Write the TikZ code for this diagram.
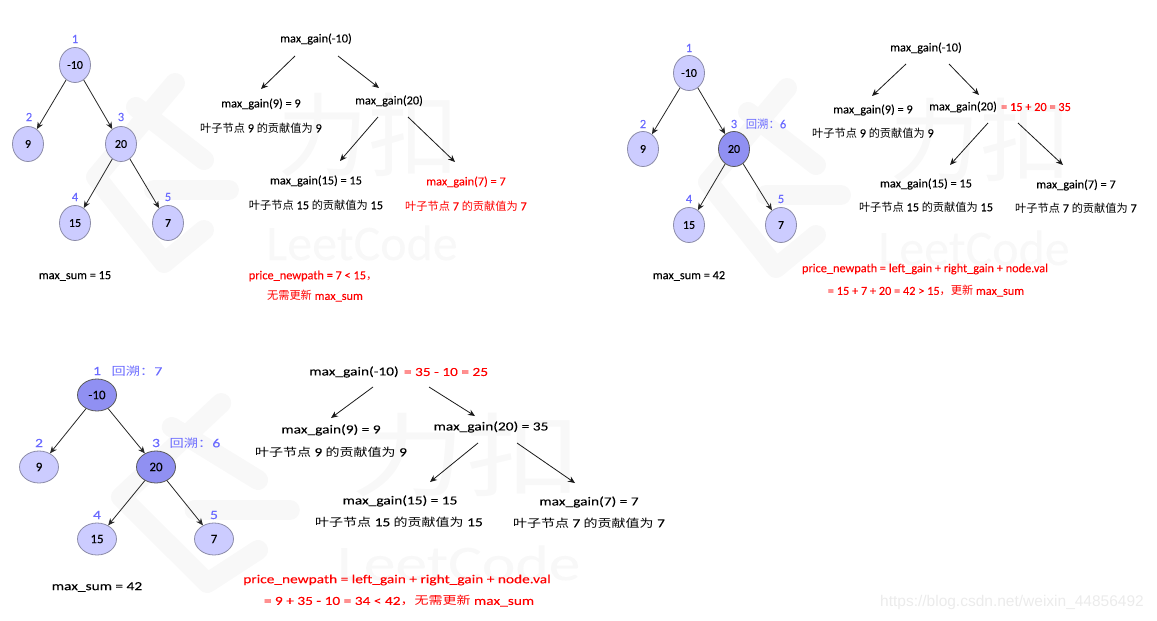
\documentclass[tikz,border=0pt]{standalone}
\usepackage{fontspec}
\usetikzlibrary{shapes.geometric, arrows.meta}
\setmainfont[FakeBold = 0.1]{Carlito}
\newfontfamily\cjk[Scale = 0.91]{Noto Sans CJK SC}
\newfontfamily\urlfont{Liberation Sans}
\definecolor{nodelight}{HTML}{CCCCFF}
\definecolor{nodedark}{HTML}{9090F2}
\definecolor{nodeline}{HTML}{8C8CA8}
\definecolor{labelblue}{HTML}{6A6AFF}
\definecolor{watermark}{HTML}{F8F8F8}
\newcommand{\leafgain}[1]{{\cjk 叶子节点} #1 {\cjk 的贡献值为} #1}
\newcommand{\backtrack}[1]{{\cjk 回溯：}#1}
\tikzset{
    treenode/.style = {ellipse, draw = nodeline, fill = nodelight, line width = 0.8pt, inner sep = 0pt, minimum width = 31pt, minimum height = 35pt, font = \fontsize{12}{14}\selectfont},
    widenode/.style = {treenode, minimum width = 39pt, minimum height = 32pt, font = \fontsize{13}{15}\selectfont},
    visited/.style = {fill = nodedark, draw = black!65},
    idlabel/.style = {text = labelblue, inner sep = 1pt, font = \fontsize{12.5}{14}\selectfont},
    widelabel/.style = {idlabel, xscale = 1.25, transform shape},
    gaintext/.style = {inner sep = 1pt, font = \fontsize{12.3}{14}\selectfont},
    widetext/.style = {gaintext, xscale = 1.25, transform shape},
    edgearrow/.style = {-{Stealth[length = 7pt, width = 6pt]}, line width = 0.8pt, black!85},
    gainarrow/.style = {-{Stealth[length = 7pt, width = 6pt]}, line width = 0.8pt, black!90}
}
\begin{document}
\begin{tikzpicture}[x = 1pt, y = -1pt]
    \useasboundingbox (0,0) rectangle (1157,621);

    % watermark behind each panel
    \foreach \dx/\dy/\sx in {0/0/1, 612/5/1, -1/320/1.27} {
        \begin{scope}[shift = {(\dx,\dy)}, xscale = \sx, transform shape]
            \draw[watermark, line width = 20pt, line cap = round, line join = round] (175,83) -- (96,177) -- (164,263) -- (204,230);
            \draw[watermark, line width = 20pt, line cap = round] (136,107) -- (204,160);
            \draw[watermark, line width = 20pt, line cap = round] (154,190) -- (229,190);
            \node[text = watermark, font = \cjk\fontsize{100}{100}\selectfont] (logotext\dx) at (368,135) {力扣};
            \node[text = watermark, font = \fontsize{50}{50}\selectfont] (logoname\dx) at (362,243) {LeetCode};
        \end{scope}
    }
    \node[text = black!8, font = \urlfont\fontsize{15.5}{17}\selectfont] (blogurl) at (1012,602) {https://blog.csdn.net/weixin\_44856492};

    % first panel
    \node[treenode] (aroot) at (75,65) {-10};
    \node[treenode] (aleft) at (28,144) {9};
    \node[treenode] (aright) at (121,144) {20};
    \node[treenode] (afour) at (75,223) {15};
    \node[treenode] (afive) at (168,223) {7};
    \draw[edgearrow] (aroot) -- (aleft);
    \draw[edgearrow] (aroot) -- (aright);
    \draw[edgearrow] (aright) -- (afour);
    \draw[edgearrow] (aright) -- (afive);

    \node[idlabel] (aid1) at (75,39) {1};
    \node[idlabel] (aid2) at (29,117) {2};
    \node[idlabel] (aid3) at (121,117) {3};
    \node[idlabel] (aid4) at (75,197) {4};
    \node[idlabel] (aid5) at (168,197) {5};

    \node[gaintext] (asum) at (75,276) {max\_sum = 15};
    \node[gaintext] (ag1) at (316,39) {max\_gain(-10)};
    \node[gaintext] (ag2) at (261,104) {max\_gain(9) = 9};
    \node[gaintext] (al2) at (261,128) {\leafgain{9}};
    \node[gaintext] (ag3) at (389,101) {max\_gain(20)};
    \node[gaintext] (ag4) at (316,181) {max\_gain(15) = 15};
    \node[gaintext] (al4) at (316,205) {\leafgain{15}};
    \node[gaintext, red] (ag5) at (466,182) {max\_gain(7) = 7};
    \node[gaintext, red] (al5) at (466,206) {\leafgain{7}};
    \node[gaintext, red] (aprice) at (313,276) {price\_newpath = 7 < 15{\cjk ，}};
    \node[gaintext, red] (acheck) at (315,296) {{\cjk 无需更新} max\_sum};

    \draw[gainarrow] ([xshift = -21pt, yshift = -17pt]ag1.center) -- ([yshift = 15pt]ag2.center);
    \draw[gainarrow] ([xshift = 22pt, yshift = -17pt]ag1.center) -- ([xshift = -10pt, yshift = 13pt]ag3.center);
    \draw[gainarrow] ([xshift = -11pt, yshift = -16pt]ag3.center) -- ([xshift = 24pt, yshift = 20pt]ag4.center);
    \draw[gainarrow] ([xshift = 19pt, yshift = -16pt]ag3.center) -- ([xshift = -11pt, yshift = 20pt]ag5.center);

    % second panel
    \node[treenode] (broot) at (689,73) {-10};
    \node[treenode] (bleft) at (643,149) {9};
    \node[treenode, visited] (bright) at (734,149) {20};
    \node[treenode] (bfour) at (689,225) {15};
    \node[treenode] (bfive) at (781,225) {7};
    \draw[edgearrow] (broot) -- (bleft);
    \draw[edgearrow] (broot) -- (bright);
    \draw[edgearrow] (bright) -- (bfour);
    \draw[edgearrow] (bright) -- (bfive);

    \node[idlabel] (bid1) at (689,48) {1};
    \node[idlabel] (bid2) at (643,124) {2};
    \node[idlabel] (bid3) at (734,124) {3};
    \node[idlabel] (bback3) at (766,124) {\backtrack{6}};
    \node[idlabel] (bid4) at (689,199) {4};
    \node[idlabel] (bid5) at (781,199) {5};

    \node[gaintext] (bsum) at (689,276) {max\_sum = 42};
    \node[gaintext] (bg1) at (926,48) {max\_gain(-10)};
    \node[gaintext] (bg2) at (873,110) {max\_gain(9) = 9};
    \node[gaintext] (bl2) at (873,133) {\leafgain{9}};
    \node[gaintext] (bg3) at (963,107) {max\_gain(20)};
    \node[gaintext, red] (bsum3) at (1036,107) {= 15 + 20 = 35};
    \node[gaintext] (bg4) at (926,184) {max\_gain(15) = 15};
    \node[gaintext] (bl4) at (926,207) {\leafgain{15}};
    \node[gaintext] (bg5) at (1076,185) {max\_gain(7) = 7};
    \node[gaintext] (bl5) at (1076,208) {\leafgain{7}};
    \node[gaintext, red] (bprice) at (925,269) {price\_newpath = left\_gain + right\_gain + node.val};
    \node[gaintext, red] (bcheck) at (926,291) {= 15 + 7 + 20 = 42 > 15{\cjk ，更新} max\_sum};

    \draw[gainarrow] ([xshift = -20pt, yshift = -16pt]bg1.center) -- ([xshift = -1pt, yshift = 14pt]bg2.center);
    \draw[gainarrow] ([xshift = 23pt, yshift = -16pt]bg1.center) -- ([xshift = 16pt, yshift = 12pt]bg3.center);
    \draw[gainarrow] ([xshift = 25pt, yshift = -16pt]bg3.center) -- ([xshift = 24pt, yshift = 19pt]bg4.center);
    \draw[gainarrow] ([xshift = 55pt, yshift = -16pt]bg3.center) -- ([xshift = -13pt, yshift = 20pt]bg5.center);

    % third panel, stretched sideways
    \node[widenode, visited] (croot) at (97,395) {-10};
    \node[widenode] (cleft) at (39,467) {9};
    \node[widenode, visited] (cright) at (156,467) {20};
    \node[widenode] (cfour) at (97,539) {15};
    \node[widenode] (cfive) at (214,539) {7};
    \draw[edgearrow] (croot) -- (cleft);
    \draw[edgearrow] (croot) -- (cright);
    \draw[edgearrow] (cright) -- (cfour);
    \draw[edgearrow] (cright) -- (cfive);

    \node[widelabel] (cid1) at (97,371) {1};
    \node[widelabel] (cback1) at (137,371) {\backtrack{7}};
    \node[widelabel] (cid2) at (39,443) {2};
    \node[widelabel] (cid3) at (156,443) {3};
    \node[widelabel] (cback3) at (195,443) {\backtrack{6}};
    \node[widelabel] (cid4) at (97,515) {4};
    \node[widelabel] (cid5) at (214,515) {5};

    \node[widetext] (csum) at (97,587) {max\_sum = 42};
    \node[widetext] (cg1) at (354,372) {max\_gain(-10)};
    \node[widetext, red] (csum1) at (446,372) {= 35 - 10 = 25};
    \node[widetext] (cg2) at (331,430) {max\_gain(9) = 9};
    \node[widetext] (cl2) at (331,452) {\leafgain{9}};
    \node[widetext] (cg3) at (491,427) {max\_gain(20) = 35};
    \node[widetext] (cg4) at (400,501) {max\_gain(15) = 15};
    \node[widetext] (cl4) at (399,522) {\leafgain{15}};
    \node[widetext] (cg5) at (589,502) {max\_gain(7) = 7};
    \node[widetext] (cl5) at (589,523) {\leafgain{7}};
    \node[widetext, red] (cprice) at (397,580) {price\_newpath = left\_gain + right\_gain + node.val};
    \node[widetext, red] (ccheck) at (399,601) {= 9 + 35 - 10 = 34 < 42{\cjk ，无需更新} max\_sum};

    \draw[gainarrow] ([xshift = 19pt, yshift = -15pt]cg1.center) -- ([yshift = 12pt]cg2.center);
    \draw[gainarrow] ([xshift = 75pt, yshift = -15pt]cg1.center) -- ([xshift = -16pt, yshift = 11pt]cg3.center);
    \draw[gainarrow] ([xshift = -13pt, yshift = -16pt]cg3.center) -- ([xshift = 30pt, yshift = 19pt]cg4.center);
    \draw[gainarrow] ([xshift = 26pt, yshift = -16pt]cg3.center) -- ([xshift = -14pt, yshift = 19pt]cg5.center);
\end{tikzpicture}
\end{document}
